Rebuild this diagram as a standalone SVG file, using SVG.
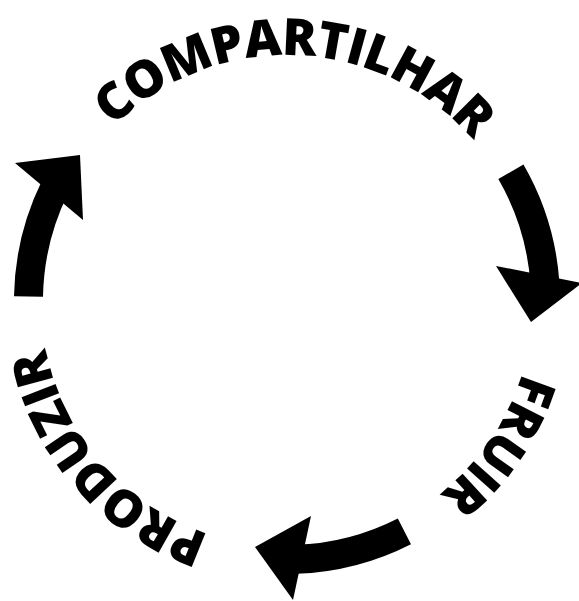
<svg xmlns="http://www.w3.org/2000/svg" width="579" height="601" viewBox="0 0 579 601">
  <style>
    .lbl { font-family: "Open Sans", "Liberation Sans", sans-serif; font-weight: 800; font-size: 51px; letter-spacing: -1px; fill: #000; }
    .body { fill: none; stroke: #000; stroke-width: 29; stroke-linecap: butt; }
    .head { fill: #000; stroke: none; }
  </style>
  <defs>
    <path id="ring" d="M 41,301 A 246 246 0 0 1 533,301 A 246 246 0 0 1 41,301"/>
  </defs>
  <rect width="579" height="601" fill="#fff"/>
  <g id="compartilhar">
    <text class="lbl"><textPath href="#ring" startOffset="395" text-anchor="middle">COMPARTILHAR</textPath></text>
  </g>
  <g id="fruir">
    <text class="lbl"><textPath href="#ring" startOffset="919" text-anchor="middle">FRUIR</textPath></text>
  </g>
  <g id="produzir">
    <text class="lbl"><textPath href="#ring" startOffset="1367" text-anchor="middle">PRODUZIR</textPath></text>
  </g>
  <g id="connectors">
    <g id="arrow-compartilhar-fruir">
      <path class="body" d="M 510.9,171.75 A 258.5 258.5 0 0 1 544.9,283"/>
      <polygon class="head" points="496,266 582,283 531,322"/>
    </g>
    <g id="arrow-fruir-produzir">
      <path class="body" d="M 404.4,531.3 A 258.5 258.5 0 0 1 296,559.3"/>
      <polygon class="head" points="311,516 293,600 255,547"/>
    </g>
    <g id="arrow-produzir-compartilhar">
      <path class="body" d="M 28.5,296.5 A 258.5 258.5 0 0 1 54.7,187.7"/>
      <polygon class="head" points="15,163 83,220 80,155"/>
    </g>
  </g>
</svg>
